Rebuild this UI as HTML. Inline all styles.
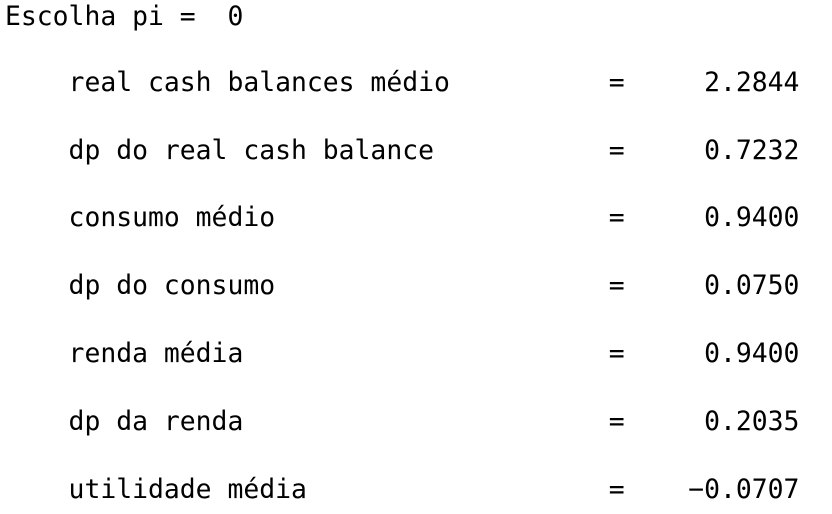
<!DOCTYPE html>
<html>
<head>
<meta charset="utf-8">
<style>
html,body{margin:0;padding:0;background:#fff;}
body{width:832px;height:514px;overflow:hidden;position:relative;}
.l{position:absolute;left:5px;margin:0;font-family:"DejaVu Sans Mono","Liberation Mono",monospace;font-size:26.4px;line-height:36px;color:#000;white-space:pre;}
</style>
</head>
<body>
<pre class="l" style="top:-1px">Escolha pi =  0</pre>
<pre class="l" style="top:65px">    real cash balances médio          =     2.2844</pre>
<pre class="l" style="top:133px">    dp do real cash balance           =     0.7232</pre>
<pre class="l" style="top:200px">    consumo médio                     =     0.9400</pre>
<pre class="l" style="top:268px">    dp do consumo                     =     0.0750</pre>
<pre class="l" style="top:336px">    renda média                       =     0.9400</pre>
<pre class="l" style="top:404px">    dp da renda                       =     0.2035</pre>
<pre class="l" style="top:472px">    utilidade média                   =    −0.0707</pre>
</body>
</html>
